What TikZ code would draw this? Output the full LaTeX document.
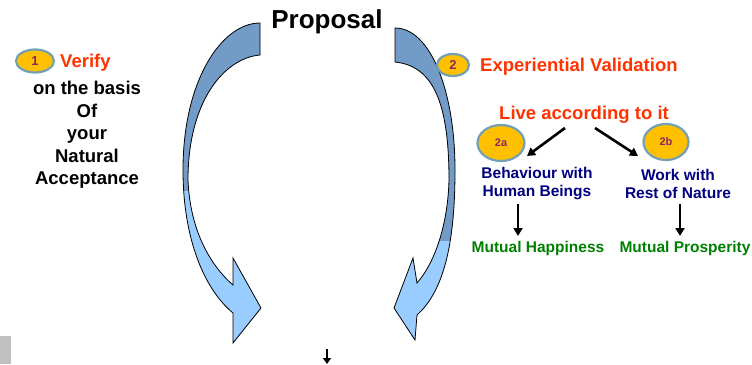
\documentclass[tikz,border=0pt]{standalone}
\usepackage{fontspec}
\setmainfont{Liberation Sans}
\usetikzlibrary{arrows.meta,shapes.geometric}
\definecolor{darkband}{RGB}{114,155,200}
\definecolor{lightband}{RGB}{153,204,255}
\definecolor{gold}{RGB}{255,192,0}
\definecolor{badgeedge}{RGB}{115,160,180}
\definecolor{badgetext}{RGB}{140,40,90}
\definecolor{vred}{RGB}{255,51,0}
\definecolor{vnavy}{RGB}{0,0,128}
\definecolor{vgreen}{RGB}{0,128,0}
\definecolor{greybar}{RGB}{192,192,192}
\tikzset{
  big/.style={font=\bfseries\fontsize{18.5}{22.5}\selectfont, inner sep=0pt, align=center},
  small/.style={font=\bfseries\fontsize{15.5}{18}\selectfont, inner sep=0pt, align=center},
  badge/.style={ellipse, fill=gold, draw=badgeedge, line width=2.2pt, text=badgetext,
     font=\bfseries\fontsize{13}{13}\selectfont, inner sep=0pt},
  band/.style={draw=black, line width=0.8pt},
  blkarrow/.style={line width=2.6pt, -{Triangle[length=8pt,width=9pt]}}
}
\begin{document}
\begin{tikzpicture}[x=1pt,y=-1pt]
\useasboundingbox (0,0) rectangle (752,364);
% left curved arrow
\def\leftarrowpath{(260,23) .. controls (222,23) and (183,80) .. (183,170) .. controls (183,240) and (205,290) .. (233,313) -- (233,343) -- (261,308) -- (233,258) -- (233,285) .. controls (210,265) and (190,230) .. (188,180) .. controls (188,100) and (225,58) .. (260,55) -- cycle}
\fill[lightband] \leftarrowpath;
\begin{scope}
\clip (150,0) rectangle (300,190);
\fill[darkband] \leftarrowpath;
\end{scope}
\draw[band] \leftarrowpath;
% right curved arrow
\def\rightarrowpath{(395,28) .. controls (430,28) and (455,90) .. (455,170) .. controls (455,240) and (445,290) .. (417,315) -- (415,340) -- (394,308) -- (413,258) -- (417,283) .. controls (437,260) and (448,220) .. (449,180) .. controls (449,100) and (432,66) .. (395,62) -- cycle}
\fill[lightband] \rightarrowpath;
\begin{scope}
\clip (380,0) rectangle (480,240);
\fill[darkband] \rightarrowpath;
\end{scope}
\draw[band] \rightarrowpath;

\node[font=\bfseries\fontsize{26}{26}\selectfont, inner sep=0pt] (proposal) at (327,22) {Proposal};

\node[badge, minimum width=38pt, minimum height=23pt] (b1) at (35,61) {1};
\node[big, text=vred, anchor=west] (verify) at (60,63) {Verify};
\node[big] (basis) at (87,135) {on the basis\\Of\\your\\Natural\\Acceptance};

\node[badge, minimum width=32pt, minimum height=22pt] (b2) at (453,65) {2};
\node[big, text=vred, anchor=west] (exp) at (480,67) {Experiential Validation};
\node[big, text=vred] (live) at (584,115) {Live according to it};

\node[badge, minimum width=47pt, minimum height=36pt, font=\bfseries\fontsize{11}{11}\selectfont] (b2a) at (501,143) {2a};
\node[badge, minimum width=45pt, minimum height=36pt, font=\bfseries\fontsize{11}{11}\selectfont] (b2b) at (666,142) {2b};

\node[small, text=vnavy] (beh) at (537,184) {Behaviour with\\Human Beings};
\node[small, text=vnavy] (work) at (678,184) {Work with\\Rest of Nature};
\node[small, text=vgreen] (happy) at (538,248) {Mutual Happiness};
\node[small, text=vgreen] (prosp) at (685,248) {Mutual Prosperity};

\coordinate (la1) at (565,128);
\coordinate (la2) at (527,156);
\coordinate (ra1) at (595,128);
\coordinate (ra2) at (638,156);
\coordinate (hv1) at (518,204);
\coordinate (hv2) at (518,236);
\coordinate (pv1) at (680,204);
\coordinate (pv2) at (680,236);
\draw[blkarrow] (la1) -- (la2);
\draw[blkarrow] (ra1) -- (ra2);
\draw[blkarrow] (hv1) -- (hv2);
\draw[blkarrow] (pv1) -- (pv2);

\coordinate (d1) at (327,349);
\coordinate (d2) at (327,364);
\draw[line width=2.4pt, -{Triangle[length=6pt,width=8pt]}] (d1) -- (d2);

\fill[greybar] (0,336) rectangle (11,364);
\end{tikzpicture}
\end{document}
